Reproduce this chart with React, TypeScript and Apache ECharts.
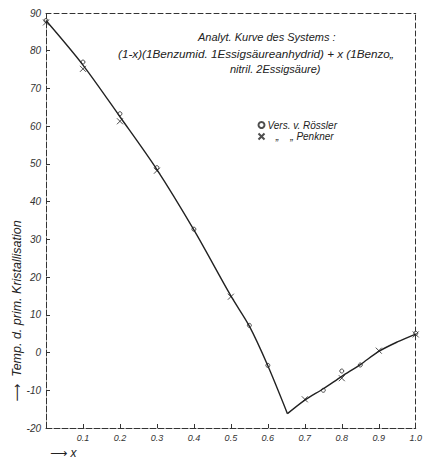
import React, { useEffect, useRef } from 'react';
import * as echarts from 'echarts';

// Analytical curve (two branches meeting at the eutectic)
const leftBranchX = [0, 0.1, 0.2, 0.3, 0.4, 0.5, 0.55, 0.6, 0.653];
const leftBranchY = [88, 76.2, 62.5, 48.5, 32.5, 15, 7, -3.5, -16.2];
const rightBranchX = [0.653, 0.7, 0.75, 0.8, 0.85, 0.9, 0.95, 1.0];
const rightBranchY = [-16.2, -12.6, -9.6, -6.3, -3.2, 0.3, 2.8, 4.9];

// Experimental points
const roesslerX = [0, 0.1, 0.2, 0.3, 0.4, 0.55, 0.6, 0.75, 0.8, 0.85, 1.0];
const roesslerY = [88, 77, 63.3, 49, 32.7, 7.2, -3.4, -10, -4.9, -3.3, 5.1];
const penknerX = [0, 0.1, 0.2, 0.3, 0.5, 0.7, 0.8, 0.9, 1.0];
const penknerY = [87.5, 75.2, 61.3, 48.2, 14.8, -12.4, -6.8, 0.5, 4.8];

const NB = '\u00a0';
const seriesNames = ['Vers. v. Rössler', `${NB}${NB}${NB}„${NB}${NB}${NB}${NB}„${NB}Penkner`];
const titleLines = [
  'Analyt. Kurve des Systems :',
  '(1-x)(1Benzumid. 1Essigsäureanhydrid) + x (1Benzo„',
  'nitril. 2Essigsäure)',
];
const yAxisTitle = `⟶${NB}${NB}Temp. d. prim. Kristallisation`;
const xAxisTitle = '⟶ x';

const zip = (xs: number[], ys: number[]) => xs.map((x, i) => [x, ys[i]]);

const FONT = '"Liberation Sans", "DejaVu Sans", sans-serif';
const INK = '#222';

export default function App() {
  const ref = useRef<HTMLDivElement>(null);
  useEffect(() => {
    if (!ref.current) return;
    const chart = echarts.init(ref.current, undefined, { renderer: 'svg' });
    const dashed = { color: '#333', width: 1, type: [6, 2] as any };
    const labelStyle = { fontFamily: FONT, fontStyle: 'italic' as const, color: '#333', fontSize: 9 };
    chart.setOption({
      animation: false,
      backgroundColor: '#fff',
      grid: { left: 46, right: 7, top: 13, bottom: 35 },
      xAxis: [
        {
          type: 'value', min: 0, max: 1, interval: 0.1,
          axisLine: { onZero: false, lineStyle: dashed },
          axisTick: { inside: true, length: 4, lineStyle: { color: '#333' } },
          axisLabel: { ...labelStyle, margin: 5, formatter: (v: number) => (v === 0 ? '' : v.toFixed(1)) },
          splitLine: { show: false },
        },
        {
          type: 'value', position: 'top', min: 0, max: 1,
          axisLine: { show: true, onZero: false, lineStyle: { ...dashed, type: [5, 3] } },
          axisTick: { show: false }, axisLabel: { show: false }, splitLine: { show: false },
        },
      ],
      yAxis: [
        {
          type: 'value', min: -20, max: 90, interval: 10,
          axisLine: { show: true, onZero: false, lineStyle: dashed },
          axisTick: { show: true, inside: true, length: 4, lineStyle: { color: '#333' } },
          axisLabel: { ...labelStyle, fontSize: 10, margin: 5 },
          splitLine: { show: false },
        },
        {
          type: 'value', position: 'right', min: -20, max: 90,
          axisLine: { show: true, onZero: false, lineStyle: { ...dashed, type: [5, 3] } },
          axisTick: { show: false }, axisLabel: { show: false }, splitLine: { show: false },
        },
      ],
      legend: {
        data: seriesNames,
        orient: 'vertical',
        left: 251, top: 115,
        itemWidth: 6, itemHeight: 6, itemGap: 1,
        textStyle: { fontFamily: FONT, fontStyle: 'italic', fontSize: 10, color: INK, padding: [0, 0, 0, -2] },
      },
      series: [
        {
          type: 'line', data: zip(leftBranchX, leftBranchY), smooth: 0.3, symbol: 'none',
          lineStyle: { color: INK, width: 1.4 }, silent: true,
        },
        {
          type: 'line', data: zip(rightBranchX, rightBranchY), smooth: 0.3, symbol: 'none',
          lineStyle: { color: INK, width: 1.4 }, silent: true,
        },
        {
          name: seriesNames[0], type: 'scatter', data: zip(roesslerX, roesslerY),
          symbol: 'circle', symbolSize: 4,
          itemStyle: { color: '#fff', borderColor: INK, borderWidth: 1 },
        },
        {
          name: seriesNames[1], type: 'scatter', data: zip(penknerX, penknerY),
          symbol: 'path://M0,0L10,10M10,0L0,10', symbolSize: 6,
          itemStyle: { color: 'none', borderColor: INK, borderWidth: 1 },
        },
      ],
      graphic: [
        { type: 'text', left: 198, top: 31, style: { text: titleLines[0], font: `italic 11px ${FONT}`, fill: INK } },
        { type: 'text', left: 118, top: 47, style: { text: titleLines[1], font: `italic 11.7px ${FONT}`, fill: INK } },
        { type: 'text', left: 230, top: 63, style: { text: titleLines[2], font: `italic 11px ${FONT}`, fill: INK } },
        {
          type: 'text', x: 17, y: 311, rotation: Math.PI / 2,
          style: { text: yAxisTitle, font: `italic 12.5px ${FONT}`, fill: INK, align: 'center', verticalAlign: 'middle' },
        },
        {
          type: 'text', x: 50, y: 453,
          style: { text: xAxisTitle, font: `italic 12px ${FONT}`, fill: INK, align: 'left', verticalAlign: 'middle' },
        },
      ],
    });
    return () => chart.dispose();
  }, []);
  return <div ref={ref} style={{ position: 'fixed', left: 0, top: 0, width: 425, height: 463 }} />;
}
